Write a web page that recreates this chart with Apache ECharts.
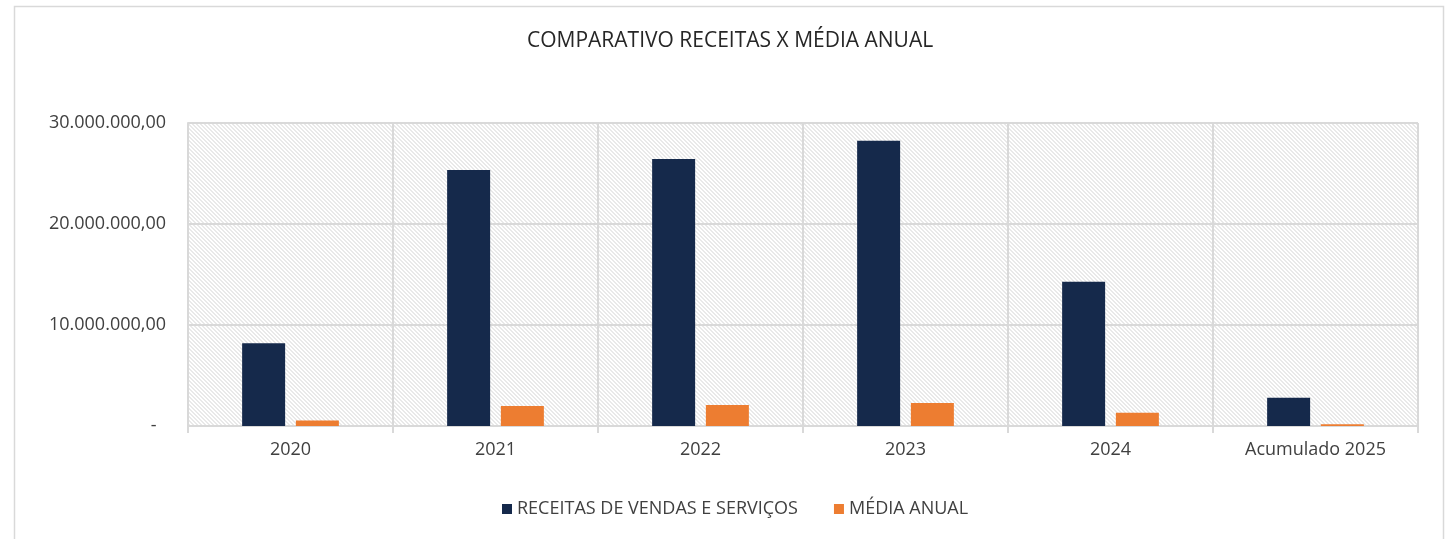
<!DOCTYPE html>
<html>
<head>
<meta charset="utf-8">
<script src="https://cdn.jsdelivr.net/npm/echarts@6/dist/echarts.min.js"></script>
<style>
	html, body { margin: 0; padding: 0; background: #fff; }
	#chart { width: 1446px; height: 539px; }
</style>
</head>
<body>
<div id="chart"></div>
<script>
// values
var categories = ["2020", "2021", "2022", "2023", "2024", "Acumulado 2025"];
var receitas = [8190000, 25350000, 26440000, 28250000, 14290000, 2800000];
var mediaAnual = [550000, 1980000, 2080000, 2270000, 1300000, 170000];
var yTicks = [0, 10000000, 20000000, 30000000];

var font = "Open Sans";
var textColor = "#404040";
var lineColor = "#d9d9d9";

// hatched plot background, like the excel pattern fill
function hatch() {
	var c = document.createElement("canvas");
	c.width = 4;
	c.height = 4;
	var ctx = c.getContext("2d");
	ctx.fillStyle = "#ffffff";
	ctx.fillRect(0, 0, 4, 4);
	ctx.fillStyle = "#e9e9e9";
	for (var y = 0; y < 4; y++) {
		for (var x = 0; x < 4; x++) {
			var d = ((x - y) % 4 + 4) % 4;
			if (d == 0 || d == 1) {
				ctx.fillRect(x, y, 1, 1);
			}
		}
	}
	return c;
}

function money(v) {
	if (v == 0) {
		return "-  ";
	}
	var s = Math.round(v).toString().replace(/\B(?=(\d{3})+(?!\d))/g, ".");
	return s + ",00";
}

var chart = echarts.init(document.getElementById("chart"));
var option = {
	animation: false,
	backgroundColor: "#ffffff",
	textStyle: { fontFamily: font },
	title: {
		text: "COMPARATIVO RECEITAS X MÉDIA ANUAL",
		left: 522,
		top: 26,
		textStyle: { fontFamily: font, fontSize: 21, fontWeight: "normal", color: "#262626" }
	},
	legend: {
		bottom: 16,
		left: 497,
		itemWidth: 10,
		itemHeight: 10,
		itemGap: 36,
		icon: "rect",
		textStyle: { fontFamily: font, fontSize: 18, color: textColor }
	},
	grid: {
		left: 188,
		right: 28,
		top: 123,
		bottom: 113,
		show: true,
		borderWidth: 0,
		backgroundColor: { image: hatch(), repeat: "repeat" }
	},
	xAxis: {
		type: "category",
		data: categories,
		axisLine: { lineStyle: { color: lineColor, width: 2 } },
		axisTick: { show: true, length: 7, lineStyle: { color: lineColor, width: 2 } },
		axisLabel: { margin: 15, fontSize: 18, color: textColor, fontFamily: font },
		splitLine: { show: true, lineStyle: { color: lineColor, width: 2 } }
	},
	yAxis: {
		type: "value",
		min: 0,
		max: 30000000,
		interval: 10000000,
		axisLine: { show: true, lineStyle: { color: lineColor, width: 2 } },
		axisTick: { show: false },
		axisLabel: {
			margin: 22,
			fontSize: 18,
			color: textColor,
			fontFamily: font,
			formatter: function(v) {
				return yTicks.indexOf(v) >= 0 ? money(v) : "";
			}
		},
		splitLine: { show: true, lineStyle: { color: lineColor, width: 2 } }
	},
	series: [{
		name: "RECEITAS DE VENDAS E SERVIÇOS",
		type: "bar",
		data: receitas,
		barWidth: 43,
		barGap: "25%",
		itemStyle: { color: "#15294b" }
	}, {
		name: "MÉDIA ANUAL",
		type: "bar",
		data: mediaAnual,
		barWidth: 43,
		itemStyle: { color: "#ed7d31" }
	}],
	graphic: [{
		type: "rect",
		silent: true,
		shape: { x: 14.5, y: 6.5, width: 1429, height: 560 },
		style: { fill: null, stroke: lineColor, lineWidth: 1.5 }
	}]
};
chart.setOption(option);
</script>
</body>
</html>
